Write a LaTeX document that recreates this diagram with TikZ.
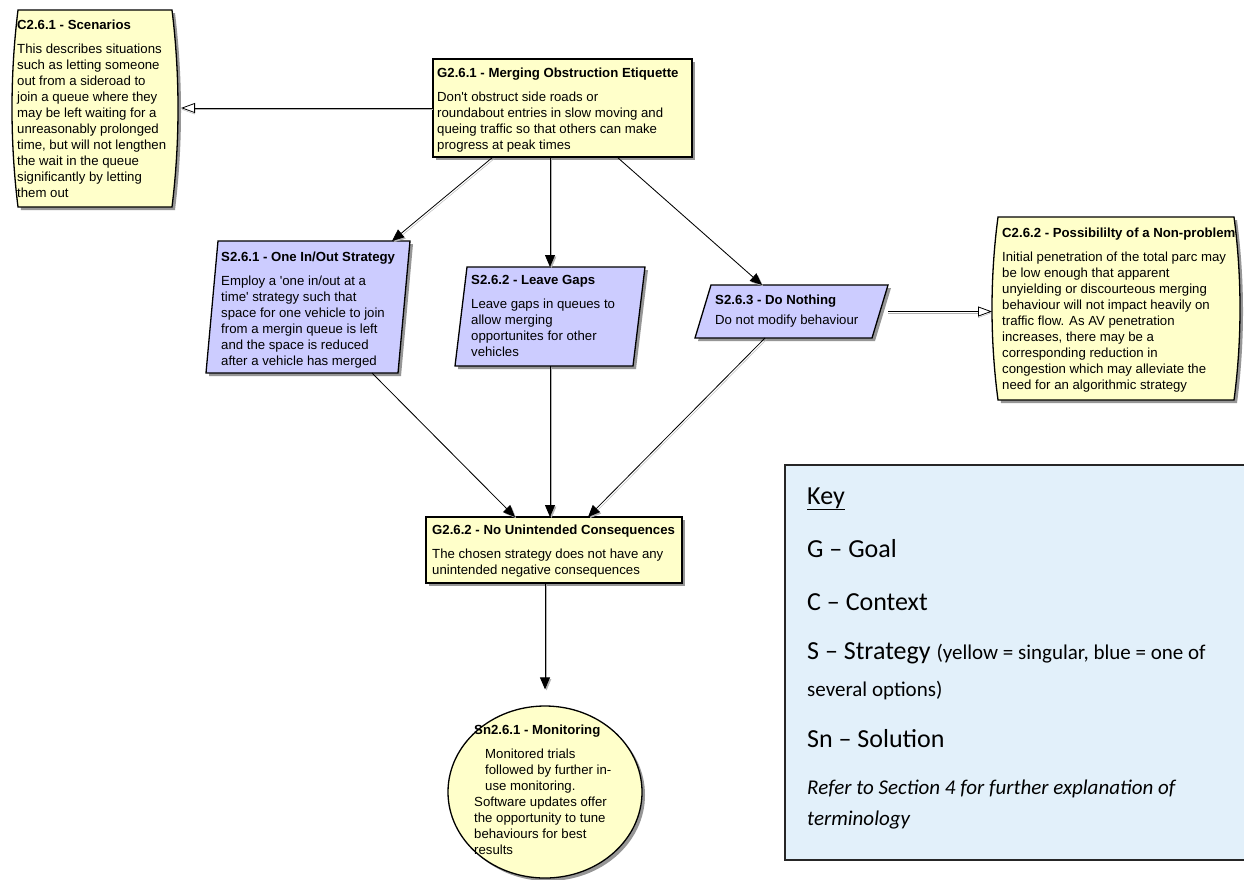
\documentclass[tikz,border=0pt]{standalone}
\usepackage{fontspec}
\setmainfont{Liberation Sans}
\newfontfamily\diagfont{Liberation Sans}
\newfontfamily\keyfont{Carlito}
\usetikzlibrary{arrows.meta,calc,shapes.geometric}

\definecolor{goalyellow}{RGB}{255,255,202}
\definecolor{stratblue}{RGB}{204,204,255}
\definecolor{keyblue}{RGB}{226,240,250}
\definecolor{shadowgray}{RGB}{150,150,150}

% context element: straight top and bottom, bulging sides
\newcommand\ctxshape[1]{%
 ($(#1.north west)+(6,0)$) -- ($(#1.north east)+(-6,0)$)
 .. controls ($(#1.north east)!0.33!(#1.south east)+(2,0)$) and ($(#1.north east)!0.67!(#1.south east)+(2,0)$) .. ($(#1.south east)+(-6,0)$)
 -- ($(#1.south west)+(6,0)$)
 .. controls ($(#1.north west)!0.67!(#1.south west)+(-2,0)$) and ($(#1.north west)!0.33!(#1.south west)+(-2,0)$) .. cycle}

% strategy element: parallelogram leaning right
\newcommand\parashape[2]{%
 ($(#1.north west)+(#2,0)$) -- (#1.north east) -- ($(#1.south east)+(-#2,0)$) -- (#1.south west) -- cycle}

\tikzset{
  frame/.style={draw=none, inner sep=0pt, outer sep=0pt, anchor=north west},
  outline/.style={draw=black, line width=1.3pt, line join=miter},
  txt/.style={anchor=north west, align=left, inner sep=0pt, font=\diagfont\fontsize{13.2}{16}\selectfont},
  keybig/.style={anchor=base west, inner sep=0pt, font=\keyfont\fontsize{26}{32}\selectfont},
  keysmall/.style={anchor=base west, inner sep=0pt, font=\keyfont\fontsize{21}{26}\selectfont},
  link/.style={line width=0.8pt, -{Triangle[length=12pt,width=10pt]},
    preaction={draw=black!30, transform canvas={shift={(1.5pt,-1.5pt)}}}},
  ctxlink/.style={line width=0.8pt, -{Triangle[open,length=14pt,width=10pt,fill=white]},
    preaction={draw=black!30, transform canvas={shift={(0pt,-1.5pt)}}}},
}

\begin{document}
\begin{tikzpicture}[x=1pt,y=-1pt]
\useasboundingbox (0,0) rectangle (1244,879);
\fill[white] (0,0) rectangle (1244,879);

% ---- element frames ----
\node[frame, minimum width=166pt, minimum height=197pt] (c1) at (12,10) {};
\node[frame, minimum width=259pt, minimum height=98pt]  (g1) at (433,59) {};
\node[frame, minimum width=204pt, minimum height=132pt] (s1) at (206,241) {};
\node[frame, minimum width=190pt, minimum height=99pt]  (s2) at (455,267) {};
\node[frame, minimum width=193pt, minimum height=53pt]  (s3) at (695,285) {};
\node[frame, minimum width=248pt, minimum height=183pt] (c2) at (992,217) {};
\node[frame, minimum width=256pt, minimum height=66pt]  (g2) at (426,517) {};

% ---- shadows ----
\begin{scope}[transform canvas={shift={(3pt,-3pt)}}]
  \fill[shadowgray] \ctxshape{c1};
  \fill[shadowgray] \ctxshape{c2};
  \fill[shadowgray] (g1.north west) rectangle (g1.south east);
  \fill[shadowgray] (g2.north west) rectangle (g2.south east);
  \fill[shadowgray] \parashape{s1}{12};
  \fill[shadowgray] \parashape{s2}{12};
  \fill[shadowgray] \parashape{s3}{16};
  \fill[shadowgray] (545,792) ellipse [x radius=97pt, y radius=86pt];
\end{scope}

% ---- element outlines ----
\filldraw[fill=goalyellow, outline] \ctxshape{c1};
\filldraw[fill=goalyellow, outline] \ctxshape{c2};
\filldraw[fill=goalyellow, outline] (g1.north west) rectangle (g1.south east);
\filldraw[fill=goalyellow, outline] (g2.north west) rectangle (g2.south east);
\filldraw[fill=stratblue, outline] \parashape{s1}{12};
\filldraw[fill=stratblue, outline] \parashape{s2}{12};
\filldraw[fill=stratblue, outline] \parashape{s3}{16};
\node[ellipse, fill=goalyellow, outline, inner sep=0pt, minimum width=194pt, minimum height=172pt] (sn) at (545,792) {};

% ---- texts ----
\node[txt] (c1t) at (17,20) {\textbf{C2.6.1 - Scenarios}\\[8pt]This describes situations\\such as letting someone\\out from a sideroad to\\join a queue where they\\may be left waiting for a\\unreasonably prolonged\\time, but will not lengthen\\the wait in the queue\\significantly by letting\\them out};

\node[txt] (g1t) at (437,68) {\textbf{G2.6.1 - Merging Obstruction Etiquette}\\[8pt]Don't obstruct side roads or\\roundabout entries in slow moving and\\queing traffic so that others can make\\progress at peak times};

\node[txt] (s1t) at (221,252) {\textbf{S2.6.1 - One In/Out Strategy}\\[8pt]Employ a 'one in/out at a\\time' strategy such that\\space for one vehicle to join\\from a mergin queue is left\\and the space is reduced\\after a vehicle has merged};

\node[txt] (s2t) at (471,275) {\textbf{S2.6.2 - Leave Gaps}\\[8pt]Leave gaps in queues to\\allow merging\\opportunites for other\\vehicles};

\node[txt] (s3t) at (715,295) {\textbf{S2.6.3 - Do Nothing}\\[4pt]Do not modify behaviour};

\node[txt] (c2t) at (1002,228) {\textbf{C2.6.2 - Possibililty of a Non-problem}\\[8pt]Initial penetration of the total parc may\\be low enough that apparent\\unyielding or discourteous merging\\behaviour will not impact heavily on\\traffic flow. As AV penetration\\increases, there may be a\\corresponding reduction in\\congestion which may alleviate the\\need for an algorithmic strategy};

\node[txt] (g2t) at (432,525) {\textbf{G2.6.2 - No Unintended Consequences}\\[8pt]The chosen strategy does not have any\\unintended negative consequences};

\node[txt] (snt) at (474,725) {\textbf{Sn2.6.1 - Monitoring}};
\node[txt] (snb1) at (485,749) {Monitored trials\\followed by further in-\\use monitoring.};
\node[txt] (snb2) at (474,797) {Software updates offer\\the opportunity to tune\\behaviours for best\\results};

% ---- connectors ----
\draw[ctxlink, shorten >=3pt] (g1.west) -- (g1.west -| c1.east);
\draw[ctxlink] (s3.east) -- (s3.east -| c2.west);
\draw[link] ($(g1.south west)+(60,0)$) -- ($(s1.north east)+(-18,0)$);
\draw[link] (g1.south -| s2.north) -- (s2.north);
\draw[link] ($(g1.south west)+(184,0)$) -- ($(s3.north west)+(67,0)$);
\draw[link] ($(s1.south west)+(166,0)$) -- ($(g2.north west)+(89,0)$);
\draw[link] (s2.south) -- (s2.south |- g2.north);
\draw[link] ($(s3.south west)+(70,0)$) -- ($(g2.north west)+(162,0)$);
\draw[link, shorten >=16pt] (g2.south -| sn.north) -- (sn.north);

% ---- key ----
\node[frame, draw=black!85, line width=1.3pt, fill=keyblue, minimum width=480pt, minimum height=395pt] (key) at (785,465) {};
\node[keybig] (k0) at (807,504) {\underline{Key}};
\node[keybig] (k1) at (807,557) {G – Goal};
\node[keybig] (k2) at (807,610) {C – Context};
\node[keybig] (k3) at (807,659) {S – Strategy {\fontsize{21}{26}\selectfont (yellow = singular, blue = one of}};
\node[keysmall] (k4) at (807,696) {several options)};
\node[keybig] (k5) at (807,747) {Sn – Solution};
\node[keysmall] (k6) at (807,794) {\itshape Refer to Section 4 for further explanation of};
\node[keysmall] (k7) at (807,825) {\itshape terminology};
\end{tikzpicture}
\end{document}
